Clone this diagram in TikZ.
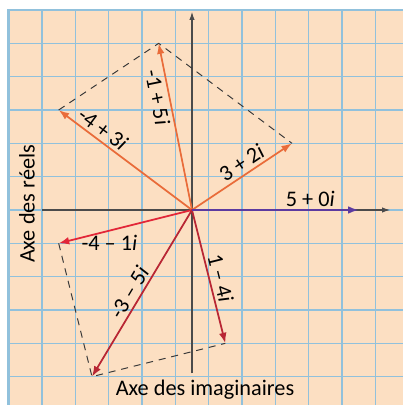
\documentclass[tikz,border=0pt]{standalone}
\usepackage{fontspec}
\setmainfont{Carlito}
\usetikzlibrary{arrows.meta}

\definecolor{peach}{RGB}{252,223,194}
\definecolor{gridblue}{RGB}{145,193,220}
\definecolor{axisgray}{RGB}{75,75,75}
\definecolor{dashgray}{RGB}{55,55,55}
\definecolor{vorange}{RGB}{233,108,58}
\definecolor{vred}{RGB}{226,38,56}
\definecolor{vdarkred}{RGB}{184,38,52}
\definecolor{vpurple}{RGB}{92,58,160}

\begin{document}
\begin{tikzpicture}[
    gridline/.style={draw=gridblue, line width=1pt},
    vec/.style={-{Latex[length=9pt,width=6.5pt]}, line width=1.5pt},
    axis/.style={-{Latex[length=7pt,width=4.5pt]}, draw=axisgray, line width=1pt},
    sumline/.style={draw=dashgray, dash pattern=on 6pt off 5pt, line width=0.8pt},
    lbl/.style={font=\fontsize{19}{19}\selectfont, text=black, inner sep=2.5pt}
  ]
    \useasboundingbox (-5.76,-5.85) rectangle (6.33,6.3);

    % squared paper
    \fill[peach] (-5.5,-5.85) rectangle (6.33,6);
    \foreach \x in {-4.5,-3.5,...,5.5}
      \draw[gridline] (\x,-5.85) -- (\x,6);
    \foreach \y in {-5,...,5}
      \draw[gridline] (-5.5,\y) -- (6.33,\y);
    \draw[draw=gridblue, line width=2pt] (-5.5,-5.85) -- (-5.5,6) -- (6.33,6);

    % axes
    \coordinate (O) at (0,0);
    \coordinate (xl) at (-4.5,0);
    \coordinate (xr) at (5.95,0);
    \coordinate (yb) at (0,-4.9);
    \coordinate (yt) at (0,5.95);
    \draw[axis] (xl) -- (xr);
    \draw[axis] (yb) -- (yt);

    % tips of the vectors
    \coordinate (zA) at (5,0);
    \coordinate (zB) at (3,2);
    \coordinate (zC) at (-1,5);
    \coordinate (zD) at (-4,3);
    \coordinate (zE) at (-4,-1);
    \coordinate (zF) at (-3,-5);
    \coordinate (zG) at (1,-4);

    % sums
    \draw[sumline] (zD) -- (zC) -- (zB);
    \draw[sumline] (zE) -- (zF) -- (zG);

    \draw[vec, vorange] (O) -- node[lbl, sloped, pos=0.56, above] (lB) {3 + 2\textit{i}} (zB);
    \draw[vec, vorange] (O) -- node[lbl, sloped, pos=0.69, below] (lC) {-1 + 5\textit{i}} (zC);
    \draw[vec, vorange] (O) -- node[lbl, sloped, pos=0.72, above] (lD) {-4 + 3\textit{i}} (zD);
    \draw[vec, vred] (O) -- node[lbl, pos=0.62, below=1pt] (lE) {-4 \textendash\ 1\textit{i}} (zE);
    \draw[vec, vdarkred] (O) -- node[lbl, sloped, pos=0.53, above] (lF) {-3 \textendash\ 5\textit{i}} (zF);
    \draw[vec, vdarkred] (O) -- node[lbl, sloped, pos=0.53, above] (lG) {1 \textendash\ 4\textit{i}} (zG);
    \draw[vec, vpurple] (O) -- node[lbl, pos=0.71, above] (lA) {5 + 0\textit{i}} (zA);

    % axis names
    \node[lbl, rotate=90] (reels) at (-4.95,0.18) {Axe des réels};
    \node[lbl] (imag) at (0.39,-5.4) {Axe des imaginaires};
\end{tikzpicture}
\end{document}
